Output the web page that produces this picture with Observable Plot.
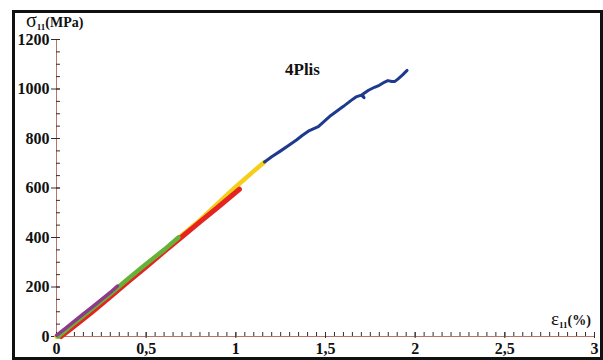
<!DOCTYPE html>
<html><head><meta charset="utf-8">
<script src="https://cdn.jsdelivr.net/npm/d3@7"></script>
<script src="https://cdn.jsdelivr.net/npm/@observablehq/plot@0.6"></script>
<style>
body{margin:0;background:#fff;}
#wrap{position:relative;width:603px;height:360px;overflow:hidden;font-family:"Liberation Serif","Times New Roman",serif;color:#111;}
#chart{position:absolute;left:0;top:0;}
#frame{position:absolute;left:12px;top:10px;width:591px;height:350px;box-sizing:border-box;border:3px solid #111;pointer-events:none;}
.lab{position:absolute;white-space:nowrap;font-weight:bold;line-height:1;}
.lab sub{font-size:9px;vertical-align:-3px;font-weight:bold;line-height:1;}
</style></head>
<body>
<div id="wrap">
  <div id="chart"></div>
  <div id="frame"></div>
  <div class="lab" id="ylab" style="left:26px;top:10px;font-size:14px;"><span style="font-size:20px;font-weight:normal">σ</span><sub>11</sub>(MPa)</div>
  <div class="lab" id="xlab" style="left:551px;top:309px;font-size:14px;"><span style="font-size:19px;font-weight:normal">ε</span><sub>11</sub>(%)</div>
  <div class="lab" id="title" style="left:285px;top:61px;font-size:17px;">4Plis</div>
</div>
<script>
// tick values
const xMajor = [0, 0.5, 1, 1.5, 2, 2.5, 3];
const xMinor = d3.range(0, 61).map(i => i * 0.05);
const yMajor = [0, 200, 400, 600, 800, 1000, 1200];
const yMinor = d3.range(0, 25).map(i => i * 50);

// series (strain %, stress MPa)
const yellowEps = [0, 0.2, 0.4, 0.6, 0.8, 1.0, 1.1, 1.16];
const yellowSig = [0, 115, 232, 350, 470, 605, 668, 705];
const redEps = [0.025, 0.1, 0.2, 0.3, 0.4, 0.5, 0.6, 0.7, 0.8, 0.9, 1.02];
const redSig = [0, 42, 100, 160, 222, 282, 343, 403, 463, 522, 595];
const greenEps = [0.01, 0.1, 0.2, 0.3, 0.4, 0.5, 0.6, 0.68];
const greenSig = [0, 55, 113, 172, 233, 293, 350, 400];
const purpleEps = [0, 0.05, 0.1, 0.15, 0.2, 0.25, 0.3, 0.34];
const purpleSig = [5, 33, 62, 91, 120, 149, 178, 204];
const blueEps = [1.16, 1.2, 1.25, 1.3, 1.34, 1.37, 1.41, 1.46, 1.53, 1.6, 1.645, 1.67, 1.70, 1.715, 1.705, 1.74, 1.773, 1.80, 1.83, 1.848, 1.87, 1.885, 1.905, 1.93, 1.955];
const blueSig = [705, 726, 750, 775, 795, 812, 832, 848, 893, 930, 955, 968, 975, 965, 978, 995, 1007, 1015, 1028, 1034, 1030, 1030, 1041, 1057, 1075];

const rows = (E, S) => E.map((e, i) => ({e, s: S[i]}));
const axisColor = "#b87565";
const tickColor = "#3a2b2b";
const lbl = {fontSize: 16, fontWeight: "bold", fill: "#111"};

const chart = Plot.plot({
  width: 603, height: 360,
  marginLeft: 56, marginRight: 9, marginTop: 39, marginBottom: 24,
  x: {domain: [0, 3], label: null},
  y: {domain: [0, 1200], label: null},
  style: {fontFamily: "'Liberation Serif', 'Times New Roman', serif", background: "transparent"},
  marks: [
    Plot.ruleY([0], {stroke: axisColor}),
    Plot.ruleX([0], {stroke: axisColor}),
    Plot.axisX(xMinor, {tickSize: 4, dy: -4, tickFormat: () => "", stroke: tickColor}),
    Plot.axisX(xMajor, {tickSize: 6, dy: -4, tickFormat: () => "", stroke: tickColor}),
    Plot.axisX(xMajor, {tickSize: 0, tickPadding: 6, tickFormat: d => String(d).replace(".", ","), ...lbl}),
    Plot.axisY(yMinor, {tickSize: 4, dx: 4, tickFormat: () => "", stroke: tickColor}),
    Plot.axisY(yMajor, {tickSize: 9, dx: 4, tickFormat: () => "", stroke: tickColor}),
    Plot.axisY(yMajor, {tickSize: 0, tickPadding: 7, tickFormat: d => String(d), ...lbl}),
    Plot.line(rows(yellowEps, yellowSig), {x: "e", y: "s", stroke: "#f4cf1a", strokeWidth: 4.5, strokeLinecap: "round"}),
    Plot.line(rows(redEps, redSig), {x: "e", y: "s", stroke: "#e52421", strokeWidth: 5, strokeLinecap: "round"}),
    Plot.line(rows(greenEps, greenSig), {x: "e", y: "s", stroke: "#63b33a", strokeWidth: 4.5, strokeLinecap: "round"}),
    Plot.line(rows(purpleEps, purpleSig), {x: "e", y: "s", stroke: "#8e3a8c", strokeWidth: 3.5, strokeLinecap: "round"}),
    Plot.line(rows(blueEps, blueSig), {x: "e", y: "s", stroke: "#1d3a8f", strokeWidth: 3, strokeLinecap: "round", strokeLinejoin: "round"})
  ]
});
document.getElementById("chart").appendChild(chart);
</script>
</body></html>
